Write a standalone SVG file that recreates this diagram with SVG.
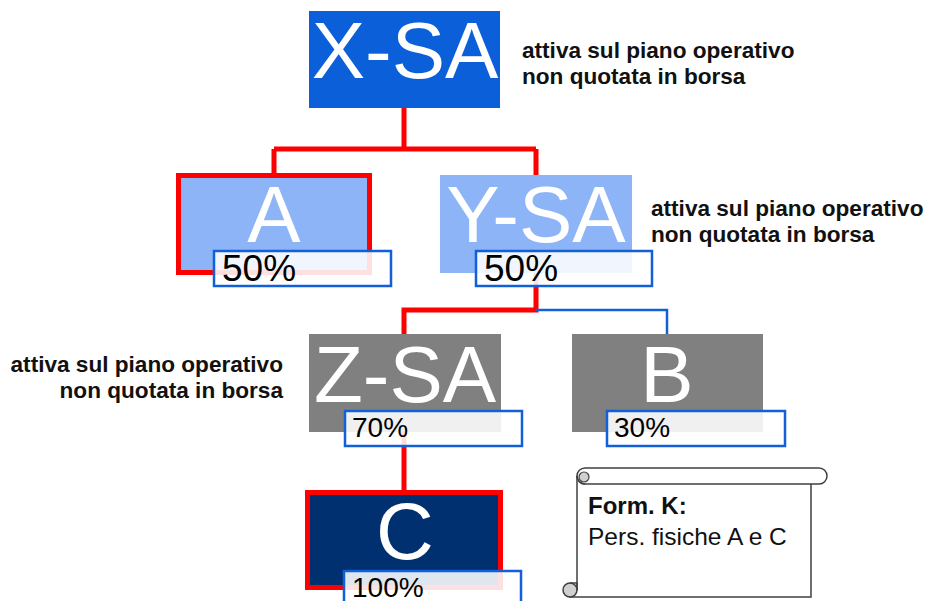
<svg xmlns="http://www.w3.org/2000/svg" width="928" height="601" viewBox="0 0 928 601">
<style>
.big{font-family:"Liberation Sans",Arial,sans-serif;font-size:80px;fill:#fff;text-anchor:middle}
.pct{font-family:"Liberation Sans",Arial,sans-serif;fill:#000}
.pbox{fill:#fff;fill-opacity:0.88;stroke:#1160d8;stroke-width:2.5}
.note{font-family:"Liberation Sans",Arial,sans-serif;font-size:22.6px;font-weight:bold;fill:#111}
.red{fill:none;stroke:#f00;stroke-width:5}
.blue{fill:none;stroke:#1160d8;stroke-width:2.5}
.scroll{fill:#fff;stroke:#404040;stroke-width:1.5}
</style>
<rect width="928" height="601" fill="#fff"/>
<g id="connectors">
<path class="red" d="M404 108V149M274 149H536M274 149V174M536 149V176"/>
<path class="red" d="M536 273V310H404V334"/>
<path class="blue" d="M536 310H667V334"/>
<path class="red" d="M404 432V491"/>
</g>
<g id="node-xsa">
<rect x="309" y="11" width="191" height="97" fill="#0b5fd9"/>
<text class="big" x="405" y="78">X-SA</text>
</g>
<g id="node-a">
<rect x="178.5" y="175.5" width="191" height="97" fill="#8db4f7" stroke="#f00" stroke-width="5"/>
<text class="big" x="274" y="242">A</text>
<rect class="pbox" x="214" y="251" width="177" height="35"/>
<text class="pct" x="222" y="281" font-size="37">50%</text>
</g>
<g id="node-ysa">
<rect x="440" y="175" width="192" height="98" fill="#8db4f7"/>
<text class="big" x="536" y="242">Y-SA</text>
<rect class="pbox" x="476" y="251" width="176" height="35"/>
<text class="pct" x="484" y="281" font-size="37">50%</text>
</g>
<g id="node-zsa">
<rect x="309" y="334" width="192" height="98" fill="#808080"/>
<text class="big" x="405" y="402">Z-SA</text>
<rect class="pbox" x="345" y="411" width="177" height="35"/>
<text class="pct" x="352" y="437" font-size="28">70%</text>
</g>
<g id="node-b">
<rect x="572" y="334" width="191" height="98" fill="#808080"/>
<text class="big" x="667" y="402">B</text>
<rect class="pbox" x="607" y="411" width="178" height="35"/>
<text class="pct" x="614" y="437" font-size="28">30%</text>
</g>
<g id="node-c">
<rect x="307.5" y="492.5" width="193" height="95" fill="#00306f" stroke="#f00" stroke-width="5"/>
<text class="big" x="405" y="559">C</text>
<rect class="pbox" x="344" y="571" width="177" height="35"/>
<text class="pct" x="352" y="597" font-size="28">100%</text>
</g>
<g id="note-xsa">
<text class="note" x="522" y="58">attiva sul piano operativo</text>
<text class="note" x="522" y="84">non quotata in borsa</text>
</g>
<g id="note-ysa">
<text class="note" x="651" y="216">attiva sul piano operativo</text>
<text class="note" x="651" y="242">non quotata in borsa</text>
</g>
<g id="note-zsa">
<text class="note" x="283" y="372" text-anchor="end">attiva sul piano operativo</text>
<text class="note" x="283" y="398" text-anchor="end">non quotata in borsa</text>
</g>
<g id="scroll">
<path class="scroll" d="M577 476V590H570A7 7 0 0 0 570 597H811V484"/>
<rect class="scroll" x="577" y="468" width="250" height="16" rx="8"/>
<circle cx="584" cy="477" r="5" fill="#d0d0d0" stroke="#404040" stroke-width="1.2"/>
<path d="M577 476A8 8 0 0 0 585 484" fill="none" stroke="#404040" stroke-width="1.5"/>
<circle cx="570" cy="590" r="7" fill="#d0d0d0" stroke="#404040" stroke-width="1.5"/>
<path d="M570 583H577V590" fill="none" stroke="#404040" stroke-width="1.5"/>
<text x="588" y="514" font-family="Liberation Sans,Arial,sans-serif" font-size="24" font-weight="bold" fill="#111">Form. K:</text>
<text x="588" y="545" font-family="Liberation Sans,Arial,sans-serif" font-size="24.5" fill="#111">Pers. fisiche A e C</text>
</g>
</svg>
